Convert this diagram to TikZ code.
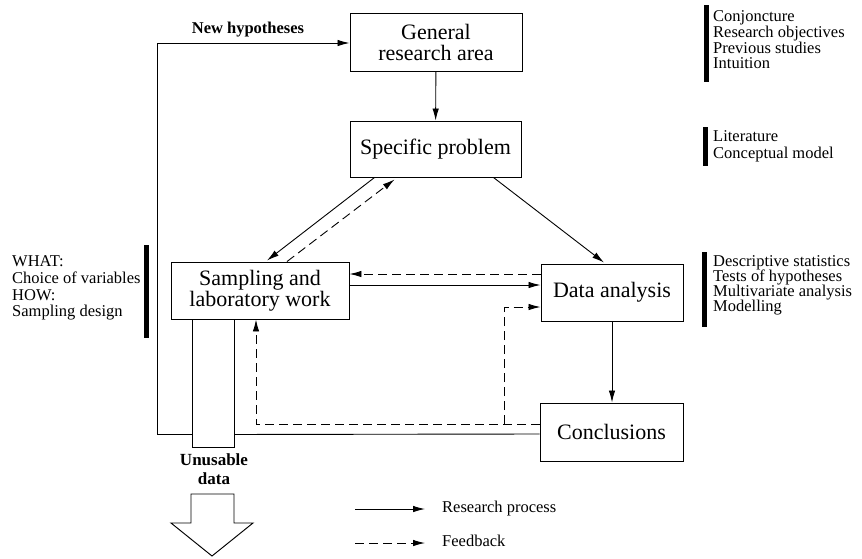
\documentclass[tikz,border=0pt]{standalone}
\usepackage{fontspec}
\setmainfont{Liberation Serif}
\usetikzlibrary{arrows.meta,calc}
\begin{document}
\begin{tikzpicture}[x=1pt,y=-1pt,
  box/.style={draw, line width=0.95pt, align=center, font=\fontsize{22}{21}\selectfont, inner sep=0pt},
  arr/.style={line width=0.9pt, -{Latex[length=12pt,width=6.5pt]}},
  fb/.style={arr, dash pattern=on 9pt off 5pt},
  plain/.style={line width=0.9pt},
  ann/.style={anchor=west, inner sep=0pt, text height=11pt, text depth=3.5pt, font=\fontsize{16.5}{16.5}\selectfont},
  bar/.style={line width=5pt}]
\useasboundingbox (0,0) rectangle (862,558);

% boxes
\node[box, minimum width=172pt, minimum height=58pt] (gen) at (436,42) {General\\research area};
\node[box, minimum width=171pt, minimum height=56pt] (spec) at (435.5,149) {Specific problem};
\node[box, minimum width=178pt, minimum height=57pt] (samp) at (260,290.5) {Sampling and\\laboratory work};
\node[box, minimum width=142pt, minimum height=57pt] (data) at (612,292.5) {Data analysis};
\node[box, minimum width=143pt, minimum height=58pt] (conc) at (611.5,432) {Conclusions};

% research process arrows
\draw[arr] (gen) -- (spec);
\draw[arr] ($(spec.south west)+(25,0)$) -- ($(samp.north)+(7,-1)$);
\draw[fb] ($(samp.north)+(27,0)$) -- ($(spec.south west)+(45,2)$);
\draw[arr] ($(spec.south east)+(-28,0)$) -- ($(data.north)+(-8,-1)$);
\draw[fb] ($(data.west)+(0,-18.5)$) -- ($(samp.east)+(0,-16.5)$);
\draw[arr] ($(samp.east)+(0,-5.5)$) -- ($(data.west)+(0,-7.5)$);
\draw[arr] (data.south) -- (data.south |- conc.north);

% feedback from conclusions
\draw[fb] ($(conc.west)+(0,-8)$) -| ($(samp.south)+(-4,0)$);
\coordinate (br) at ($(conc.west)+(-35,-8)$);
\draw[fb] (br) |- ($(data.west)+(0,14.5)$);

% unusable data column
\coordinate (cl) at ($(samp.south)+(-68,0)$);
\coordinate (cr) at ($(samp.south)+(-26,0)$);
\draw[line width=0.95pt] (cl) -- ++(0,128) -| (cr);
\draw[plain] ($(conc.west)+(0,2)$) -- ($(cr)+(0,115)$);
\draw[arr] ($(cl)+(0,115)$) -| ($(gen.west)+(-192,1)$) -- ($(gen.west)+(0,1)$);
\node[font=\bfseries\fontsize{16.5}{16.5}\selectfont] (nh) at (248,30) {New hypotheses};
\node[font=\bfseries\fontsize{17}{19}\selectfont, align=center, inner sep=0pt] (ud) at (214,469) {Unusable\\data};

% big hollow arrow
\draw[line width=0.95pt] (191,494) -- (234,494) -- (234,523) -- (253,523) -- (212,556) -- (171,523) -- (191,523) -- cycle;

% legend
\coordinate (l1a) at (355,509); \coordinate (l1b) at (425,509);
\coordinate (l2a) at (355,543); \coordinate (l2b) at (425,543);
\draw[arr] (l1a) -- (l1b);
\draw[fb] (l2a) -- (l2b);
\node[ann] (lg1) at (442,509) {Research process};
\node[ann] (lg2) at (442,543) {Feedback};

% annotations right
\draw[bar] (706,5) -- (706,82);
\foreach \t [count=\i] in {Conjoncture, Research objectives, Previous studies, Intuition}
  \node[ann] (ga\i) at (713,{18+15.7*(\i-1)}) {\t};
\draw[bar] (705.5,127) -- (705.5,166);
\foreach \t [count=\i] in {Literature, Conceptual model}
  \node[ann] (sa\i) at (713,{138+17*(\i-1)}) {\t};
\draw[bar] (704.5,252) -- (704.5,327);
\foreach \t [count=\i] in {Descriptive statistics, Tests of hypotheses, Multivariate analysis, Modelling}
  \node[ann] (da\i) at (713,{263+15*(\i-1)}) {\t};

% annotations left
\draw[bar] (146.5,245) -- (146.5,338);
\foreach \t [count=\i] in {WHAT:, Choice of variables, HOW:, Sampling design}
  \node[ann] (wa\i) at (12,{263+16.7*(\i-1)}) {\t};
\end{tikzpicture}
\end{document}
